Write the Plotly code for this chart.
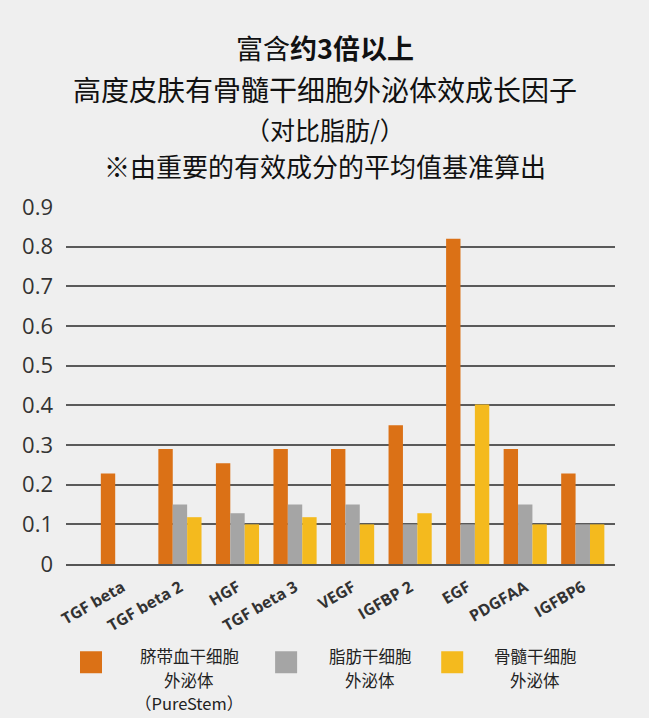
import plotly.graph_objects as go

categories = ["TGF beta", "TGF beta 2", "HGF", "TGF beta 3", "VEGF",
              "IGFBP 2", "EGF", "PDGFAA", "IGFBP6"]
purestem = [0.228, 0.29, 0.254, 0.29, 0.29, 0.35, 0.82, 0.29, 0.228]
adipose = [None, 0.15, 0.128, 0.15, 0.15, 0.1, 0.1, 0.15, 0.1]
bone_marrow = [None, 0.118, 0.1, 0.118, 0.1, 0.128, 0.402, 0.1, 0.1]

y_ticks = [0, 0.1, 0.2, 0.3, 0.4, 0.5, 0.6, 0.7, 0.8, 0.9]
y_labels = ["0", "0.1", "0.2", "0.3", "0.4", "0.5", "0.6", "0.7", "0.8", "0.9"]

series_names = [["脐带血干细胞", "外泌体", "（PureStem）"],
                ["脂肪干细胞", "外泌体"],
                ["骨髓干细胞", "外泌体"]]
colors = ["#db7116", "#a5a5a5", "#f4ba1e"]

title_lines = [
    "富含<b>约3倍以上</b>",
    "高度皮肤有骨髓干细胞外泌体效成长因子",
    "（对比脂肪/）",
    "※由重要的有效成分的平均值基准算出",
]

W, H = 649, 718
L, R, T, B = 66, 34.3, 206.5, 154.3
pw, ph = W - L - R, H - T - B


def px(x):
    return (x - L) / pw


def py(y):
    return (H - B - y) / ph


cjk = "Noto Sans CJK SC"

fig = go.Figure()
for vals, col in zip([purestem, adipose, bone_marrow], colors):
    fig.add_trace(go.Bar(x=categories, y=vals, marker=dict(color=col, line=dict(width=0)),
                         showlegend=False))

# title lines
for txt, yc, fs in zip(title_lines, [47, 88, 128, 165], [27, 28, 25, 26]):
    fig.add_annotation(text=txt, x=px(325), y=py(yc), xref="paper", yref="paper",
                       xanchor="center", yanchor="middle", showarrow=False,
                       font=dict(family=cjk, size=fs, color="#111"))

# legend drawn by hand so the labels can be centred
for lines, col, sx, tx in zip(series_names, colors, [80, 275, 441], [189, 370, 535]):
    fig.add_shape(type="rect", xref="paper", yref="paper",
                  x0=px(sx), x1=px(sx + 22), y0=py(673), y1=py(651),
                  fillcolor=col, line=dict(width=0))
    for txt, yc in zip(lines, [656, 679.5, 703]):
        fig.add_annotation(text=txt, x=px(tx), y=py(yc), xref="paper", yref="paper",
                           xanchor="center", yanchor="middle", showarrow=False,
                           font=dict(family=cjk, size=16.5, color="#222"))

fig.update_layout(
    width=W, height=H,
    margin=dict(l=L, r=R, t=T, b=B, autoexpand=False),
    paper_bgcolor="#efefef", plot_bgcolor="#efefef",
    barmode="group", bargap=0.25, bargroupgap=0,
    xaxis=dict(range=[-0.98, 8.56], tickangle=-30, showgrid=False, zeroline=False,
               showline=True, linecolor="#555", linewidth=2, layer="above traces",
               ticks="", automargin=False, ticklabelstandoff=6,
               tickfont=dict(family="Open Sans", size=16, color="#333", weight="bold")),
    yaxis=dict(range=[0, 0.9], tickvals=y_ticks, ticktext=y_labels, showgrid=True,
               gridcolor="#5a5a5a", gridwidth=1.8, zeroline=False, ticks="",
               ticklabelstandoff=12, automargin=False,
               tickfont=dict(family="Open Sans", size=22, color="#333")),
)

fig.write_html("out.html", config={"displayModeBar": False},
               post_script="document.body.style.margin='0';"
               "document.body.style.overflow='hidden';")
